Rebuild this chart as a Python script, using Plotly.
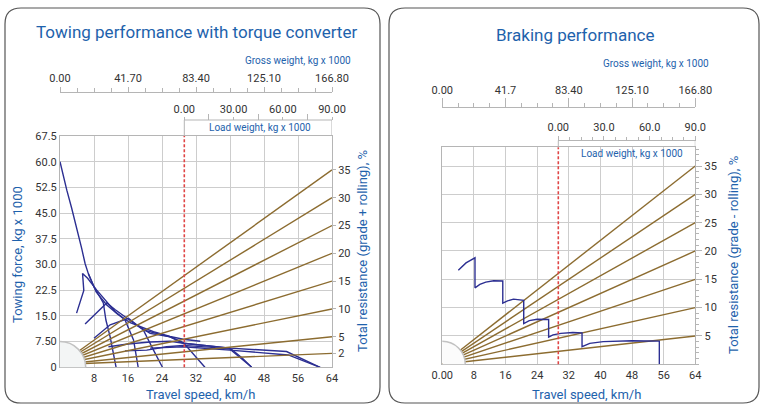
import plotly.graph_objects as go

W, H = 761, 405

# ---------------- data ----------------
speed_ticks = [8, 16, 24, 32, 40, 48, 56, 64]
force_ticks = [0, 7.5, 15, 22.5, 30, 37.5, 45, 52.5, 60, 67.5]
force_ticktext = ['0', '7.50', '15.0', '22.5', '30.0', '37.5', '45.0', '52.5', '60.0', '67.5']
tow_resistance = [2, 5, 10, 15, 20, 25, 30, 35]
brake_resistance = [5, 10, 15, 20, 25, 30, 35]
gross_ticks = [0, 41.7, 83.4, 125.1, 166.8]
gross_text_tow = ['0.00', '41.70', '83.40', '125.10', '166.80']
gross_text_brake = ['0.00', '41.7', '83.40', '125.10', '166.80']
load_ticks = [0, 30, 60, 90]
load_text_tow = ['0.00', '30.00', '60.00', '90.00']
load_text_brake = ['0.00', '30.0', '60.0', '90.0']

# towing force curves (speed km/h, force kg x 1000)
g1_speed = [0, 0.8, 1.6, 2.75, 3.9, 5.1, 5.9, 6.7, 8.0, 9.4, 10.2, 10.8, 11.8, 13.2]
g1_force = [60, 55.6, 51.7, 46.4, 41.0, 34.7, 30.3, 27.2, 23.5, 20.6, 18.8, 13.8, 8.9, 0]
g2_speed = [3.9, 5.6, 5.3, 6.5, 8.6, 11.0, 13.0, 15.3, 17.3, 18.4]
g2_force = [15.8, 22.4, 27.4, 26.0, 22.6, 19.0, 16.2, 13.8, 8.0, 0]
g3_speed = [5.9, 8.5, 11.0, 13.0, 16.0, 19.6, 22.0, 24.1]
g3_force = [12.6, 15.8, 18.8, 16.8, 14.0, 10.9, 5.0, 0]
g3b_speed = [6.7, 8.5, 11.0, 13.5, 16.5, 19.6, 22.0, 25.9, 29.0, 33.0]
g3b_force = [27.2, 22.0, 18.2, 15.6, 13.0, 11.6, 10.4, 9.0, 8.2, 7.6]
g4_speed = [8.0, 11.8, 16.1, 18.5, 21.2, 25.9, 29.0, 31.5, 34.1]
g4_force = [8.5, 12.4, 14.3, 12.0, 9.9, 8.9, 7.2, 3.8, 0]
g5_speed = [15.3, 20.4, 25.1, 29.0, 35.0, 40.0, 42.5, 45.1]
g5_force = [4.8, 5.0, 6.0, 6.4, 5.9, 5.3, 2.7, 0]
g5b_speed = [11.4, 16.0, 21.2, 26.0, 29.0, 35.0, 40.0, 42.8, 45.1]
g5b_force = [6.0, 6.8, 7.4, 7.6, 7.0, 6.2, 5.6, 2.8, 0]
g6_speed = [19.6, 23.0, 25.9, 29.0, 40.0, 53.3, 57.0, 61.2]
g6_force = [10.9, 9.8, 8.9, 7.0, 5.6, 4.6, 2.4, 0]
g6b_speed = [21.2, 29.0, 40.0, 53.7, 61.2]
g6b_force = [5.6, 6.0, 5.0, 3.6, 0]

tow_curves = [(g1_speed, g1_force), (g2_speed, g2_force), (g3_speed, g3_force),
              (g3b_speed, g3b_force), (g4_speed, g4_force), (g5_speed, g5_force),
              (g5b_speed, g5b_force), (g6_speed, g6_force), (g6b_speed, g6b_force)]

# braking curve (speed km/h, resistance %)
brake_speed = [4.05, 5, 6, 7, 8.27, 8.27, 9.5, 11, 13, 15.3, 15.3, 16.5, 18, 20.6, 20.6,
               22, 24, 26.9, 26.9, 28, 30, 33, 35.35, 35.35, 37.3, 40.7, 44, 48, 54.9, 54.9]
brake_res = [16.6, 17.3, 17.9, 18.3, 18.8, 13.5, 14.1, 14.5, 14.75, 14.7, 10.8, 11.2, 11.5, 11.3, 7.2,
             7.7, 7.95, 7.9, 4.8, 5.2, 5.45, 5.6, 5.55, 3.1, 3.7, 4.0, 4.1, 4.15, 4.1, 0]

# ---------------- style ----------------
FONT = "Roboto, sans-serif"
BLUE_TXT = "#1e62ac"
NAVY = "#2c2f92"
BROWN = "#8c6c30"
GRID = "#cdcdcd"
AXL = "#b5b5b5"
TICKC = "#333333"
RED = "#e04545"


def px(x):
    return x / W


def py(y):
    return 1 - y / H


XL = [px(60), px(332)]
YL = [py(367.3), py(136)]
XR = [px(442.3), px(695.3)]
YR = [py(364.3), py(147.3)]


# load axis placement: zero load lines up with given pixel, 90 at the plot's right edge
def load_range(x_left, x_zero, x_right):
    per_px = 90.0 / (x_right - x_zero)
    return [-(x_zero - x_left) * per_px, 90.0]


LOAD_RANGE_L = load_range(60, 184.3, 332)
LOAD_RANGE_R = load_range(442.3, 558.3, 695.3)

fig = go.Figure()

# brown resistance rays (left) on resistance axis
for r in tow_resistance:
    fig.add_trace(go.Scatter(x=[0, 64], y=[0, r], xaxis='x', yaxis='y2', mode='lines',
                             line=dict(color=BROWN, width=1.4), hoverinfo='skip', showlegend=False))
# towing force curves
for s, f in tow_curves:
    fig.add_trace(go.Scatter(x=s, y=f, xaxis='x', yaxis='y', mode='lines',
                             line=dict(color=NAVY, width=1.4), hoverinfo='skip', showlegend=False))
# invisible traces holding the weight axes
fig.add_trace(go.Scatter(x=[0, 166.8], y=[0, 0], xaxis='x3', yaxis='y', mode='markers',
                         marker=dict(opacity=0), hoverinfo='skip', showlegend=False))
fig.add_trace(go.Scatter(x=[0, 90], y=[0, 0], xaxis='x4', yaxis='y', mode='markers',
                         marker=dict(opacity=0), hoverinfo='skip', showlegend=False))

# right chart
for r in brake_resistance:
    fig.add_trace(go.Scatter(x=[0, 64], y=[0, r], xaxis='x5', yaxis='y5', mode='lines',
                             line=dict(color=BROWN, width=1.4), hoverinfo='skip', showlegend=False))
fig.add_trace(go.Scatter(x=brake_speed, y=brake_res, xaxis='x5', yaxis='y5', mode='lines',
                         line=dict(color=NAVY, width=1.4), hoverinfo='skip', showlegend=False))
fig.add_trace(go.Scatter(x=[0, 166.8], y=[0, 0], xaxis='x6', yaxis='y5', mode='markers',
                         marker=dict(opacity=0), hoverinfo='skip', showlegend=False))
fig.add_trace(go.Scatter(x=[0, 90], y=[0, 0], xaxis='x7', yaxis='y5', mode='markers',
                         marker=dict(opacity=0), hoverinfo='skip', showlegend=False))

tickfont = dict(family=FONT, size=11, color=TICKC)

fig.update_layout(
    width=W, height=H, margin=dict(l=0, r=0, t=0, b=0, autoexpand=False),
    paper_bgcolor='white', plot_bgcolor='rgba(0,0,0,0)',
    font=dict(family=FONT, size=11, color=TICKC),
    xaxis=dict(domain=XL, range=[0, 64], anchor='y', tickvals=speed_ticks, automargin=False,
               showgrid=True, gridcolor=GRID, gridwidth=1, showline=True, linecolor=AXL, mirror=True,
               ticks='', tickfont=tickfont, zeroline=False),
    yaxis=dict(domain=YL, range=[0, 67.5], anchor='x', tickvals=force_ticks, ticktext=force_ticktext,
               automargin=False,
               showgrid=True, gridcolor=GRID, gridwidth=1, showline=True, linecolor=AXL, mirror=True,
               ticks='', tickfont=tickfont, zeroline=False),
    yaxis2=dict(overlaying='y', side='right', anchor='x', range=[-0.5, 41.1], tickvals=tow_resistance,
                automargin=False,
                showgrid=False, zeroline=False, showline=False, ticks='outside', ticklen=3,
                tickcolor=AXL, tickfont=tickfont),
    xaxis3=dict(overlaying='x', anchor='free', position=py(91.7), side='top', range=[0, 166.8],
                automargin=False,
                tickvals=gross_ticks, ticktext=gross_text_tow, showgrid=False, zeroline=False,
                showline=True, linecolor=AXL, ticks='outside', ticklen=5, tickcolor=AXL,
                minor=dict(tickvals=[i * 10.425 for i in range(17)], ticks='outside', ticklen=4,
                           tickcolor=AXL), tickfont=tickfont),
    xaxis4=dict(overlaying='x', anchor='free', position=py(120), side='top', range=LOAD_RANGE_L,
                automargin=False,
                tickvals=load_ticks, ticktext=load_text_tow, showgrid=False, zeroline=False,
                showline=False, ticks='outside', ticklen=3, tickcolor=AXL,
                minor=dict(tickvals=[15, 45, 75], ticks='outside', ticklen=6, tickcolor=AXL),
                tickfont=tickfont),
    xaxis5=dict(domain=XR, range=[0, 64], anchor='y5', tickvals=[0] + speed_ticks,
                automargin=False,
                ticktext=['0.00'] + [str(v) for v in speed_ticks],
                showgrid=True, gridcolor=GRID, gridwidth=1, showline=True, linecolor=AXL, mirror=True,
                ticks='', tickfont=tickfont, zeroline=False),
    yaxis5=dict(domain=YR, range=[0, 38.3], anchor='x5', side='right', tickvals=brake_resistance,
                automargin=False,
                showgrid=True, gridcolor=GRID, gridwidth=1, showline=True, linecolor=AXL, mirror=True,
                ticks='outside', ticklen=6, tickcolor=AXL, zeroline=False, tickfont=tickfont,
                minor=dict(dtick=1, tick0=0, ticks='outside', ticklen=3, tickcolor=AXL, showgrid=False)),
    xaxis6=dict(overlaying='x5', anchor='free', position=py(107.3), side='top', range=[0, 166.8],
                automargin=False,
                tickvals=gross_ticks, ticktext=gross_text_brake, showgrid=False, zeroline=False,
                showline=True, linecolor=AXL, ticks='outside', ticklen=9, tickcolor=AXL,
                minor=dict(tickvals=[i * 10.425 for i in range(17)], ticks='outside', ticklen=4,
                           tickcolor=AXL), tickfont=tickfont),
    xaxis7=dict(overlaying='x5', anchor='free', position=py(140.5), side='top', range=LOAD_RANGE_R,
                automargin=False,
                tickvals=load_ticks, ticktext=load_text_brake, showgrid=False, zeroline=False,
                showline=False, ticks='outside', ticklen=5, tickcolor=AXL,
                minor=dict(tickvals=[7.5 * i for i in range(13)], ticks='outside', ticklen=4, tickcolor=AXL),
                tickfont=tickfont),
)


def rounded(x0, y0, x1, y1, r):
    pts = [
        f"M {px(x0 + r)},{py(y0)}",
        f"L {px(x1 - r)},{py(y0)}",
        f"Q {px(x1)},{py(y0)} {px(x1)},{py(y0 + r)}",
        f"L {px(x1)},{py(y1 - r)}",
        f"Q {px(x1)},{py(y1)} {px(x1 - r)},{py(y1)}",
        f"L {px(x0 + r)},{py(y1)}",
        f"Q {px(x0)},{py(y1)} {px(x0)},{py(y1 - r)}",
        f"L {px(x0)},{py(y0 + r)}",
        f"Q {px(x0)},{py(y0)} {px(x0 + r)},{py(y0)}",
        "Z",
    ]
    return " ".join(pts)


shapes = [
    dict(type='path', xref='paper', yref='paper', path=rounded(5, 8, 380, 403, 16),
         line=dict(color='#555555', width=1.2), layer='below'),
    dict(type='path', xref='paper', yref='paper', path=rounded(389, 8, 759, 403, 16),
         line=dict(color='#555555', width=1.2), layer='below'),
    # quarter-circle hubs
    dict(type='circle', xref='x', yref='y', x0=-6.05, x1=6.05, y0=-7.5, y1=7.5,
         fillcolor='#f3f5f5', line=dict(color='#c2c2c2', width=1.5), layer='above'),
    dict(type='circle', xref='x5', yref='y5', x0=-5.8, x1=5.8, y0=-4.05, y1=4.05,
         fillcolor='#fbfbfb', line=dict(color='#c2c2c2', width=1.5), layer='above'),
    # red lines at zero load
    dict(type='line', xref='x4', yref='y domain', x0=0, x1=0, y0=0, y1=1,
         line=dict(color=RED, width=1.6, dash='3px,2px')),
    dict(type='line', xref='x7', yref='y5 domain', x0=0, x1=0, y0=0, y1=1,
         line=dict(color=RED, width=1.6, dash='3px,2px')),
    # load axis lines and brackets down to the plot tops
    dict(type='path', xref='x4', yref='paper',
         path=f"M 0,{py(136)} L 0,{py(120)} L 90,{py(120)} L 90,{py(136)}",
         line=dict(color=AXL, width=1)),
    dict(type='path', xref='x7', yref='paper',
         path=f"M 0,{py(147.3)} L 0,{py(140.5)} L 90,{py(140.5)} L 90,{py(147.3)}",
         line=dict(color=AXL, width=1)),
]
fig.update_layout(shapes=shapes)


def ann(x, y, text, size, xanchor='center', angle=0, color=BLUE_TXT):
    return dict(x=px(x), y=py(y), xref='paper', yref='paper', text=text, showarrow=False,
                xanchor=xanchor, yanchor='middle', textangle=angle,
                font=dict(family=FONT, size=size, color=color))


annotations = [
    ann(196, 32, 'Towing performance with torque converter', 17),
    ann(575, 35, 'Braking performance', 17),
    ann(353, 61, 'Gross weight, kg x 1000', 10, xanchor='right'),
    ann(711, 64, 'Gross weight, kg x 1000', 10, xanchor='right'),
    ann(260, 128, 'Load weight, kg x 1000', 10),
    ann(632, 154, 'Load weight, kg x 1000', 10),
    ann(200, 394, 'Travel speed, km/h', 13),
    ann(586, 394, 'Travel speed, km/h', 13),
    ann(17, 255, 'Towing force, kg x 1000', 13, angle=-90),
    ann(362, 251, 'Total resistance (grade + rolling), %', 13, angle=-90),
    ann(733, 255, 'Total resistance (grade - rolling), %', 13, angle=-90),
]
fig.update_layout(annotations=annotations)

fig.write_html("out.html", config={'displayModeBar': False},
               post_script="document.body.style.margin='0px';document.body.style.overflow='hidden';")
